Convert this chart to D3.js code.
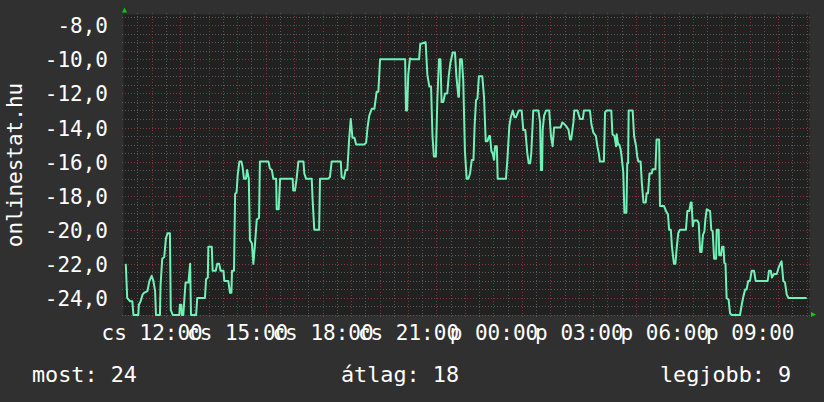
<!DOCTYPE html>
<html><head><meta charset="utf-8">
<script src="https://cdn.jsdelivr.net/npm/d3@7"></script>
<style>html,body{margin:0;padding:0;background:#303030;} svg{display:block;}</style>
</head><body><svg id="c" width="824" height="402"></svg>
<script>
// hours since Thursday 00:00 (cs) ; values = rank (negative)
const times = [
11.09,11.14,11.24,11.32,11.36,11.53,11.55,11.61,11.68,11.73,11.85,11.92,12.00,12.06,12.12,12.15,12.29,12.31,12.37,12.44,
12.50,12.56,12.64,12.67,12.74,12.97,12.99,13.04,13.06,13.11,13.15,13.19,13.29,13.35,13.38,13.56,13.60,13.87,13.91,13.97,
13.99,14.11,14.14,14.25,14.30,14.37,14.42,14.52,14.55,14.69,14.75,14.80,14.82,14.89,14.93,14.98,15.02,15.08,15.15,15.19,
15.24,15.31,15.35,15.41,15.45,15.52,15.57,15.63,15.69,15.77,15.80,16.10,16.15,16.22,16.27,16.37,16.39,16.46,16.51,16.95,
16.97,17.03,17.09,17.15,17.33,17.36,17.42,17.62,17.65,17.71,17.88,17.91,18.20,18.26,18.32,18.64,18.67,18.75,18.81,18.87,
18.93,18.99,19.05,19.12,19.18,19.46,19.53,19.58,19.64,19.73,19.82,19.90,19.96,20.02,20.90,20.93,20.97,21.01,21.07,21.15,
21.39,21.43,21.62,21.68,21.75,21.81,21.86,21.91,21.98,22.03,22.09,22.14,22.18,22.24,22.30,22.38,22.43,22.49,22.57,22.65,
22.70,22.77,22.79,22.83,22.89,22.94,23.00,23.06,23.12,23.18,23.24,23.30,23.34,23.39,23.44,23.49,23.61,23.67,23.73,23.79,
23.85,23.88,23.93,23.97,24.02,24.06,24.12,24.15,24.44,24.49,24.56,24.61,24.68,24.74,24.79,24.89,24.99,25.05,25.12,25.19,
25.24,25.29,25.33,25.40,25.58,25.64,25.67,25.71,25.73,25.78,25.85,25.96,26.02,26.08,26.13,26.36,26.42,26.49,26.57,26.64,
26.69,26.73,26.81,26.84,26.95,27.04,27.14,27.18,27.39,27.44,27.51,27.60,27.65,27.70,27.74,27.88,27.92,27.98,28.14,28.18,
28.25,28.31,28.33,28.38,28.42,28.47,28.50,28.56,28.60,28.67,28.70,28.73,28.75,28.89,28.94,29.01,29.05,29.09,29.17,29.21,
29.27,29.35,29.38,29.43,29.48,29.56,29.59,29.69,29.73,29.82,29.85,29.99,30.06,30.13,30.17,30.23,30.27,30.34,30.39,30.44,
30.49,30.55,30.76,30.81,30.88,30.93,30.96,31.00,31.04,31.16,31.21,31.26,31.31,31.36,31.41,31.44,31.49,31.61,31.65,31.70,
31.75,31.82,31.84,31.91,31.93,31.99,32.03,32.08,32.11,32.15,32.19,32.26,32.31,32.37,32.66,32.72,32.78,32.84,32.89,32.95,
33.01,33.07,33.15,33.21,33.63,33.68,33.74,33.78,33.85,33.95,34.02,34.07,34.12,34.18,34.24,34.30,34.36,35.00
];
const values = [
-22,-24,-24.2,-24.2,-25,-25,-24.4,-24.2,-23.8,-23.7,-23.6,-23,-22.7,-23,-23.6,-25,-25,-23.3,-21.7,-21.6,
-20.5,-20.2,-20.2,-24.7,-25,-25,-24.4,-24.4,-25,-25,-24,-23.1,-23.1,-22,-25,-25,-24,-24,-22.9,-22.8,
-21,-21,-22.4,-22.4,-22,-22,-22.4,-22.4,-23,-23,-23.7,-23.7,-22.4,-22.4,-17.9,-17.8,-16.8,-16,-16,-16.3,
-17,-17,-16.5,-17,-20.6,-20.8,-22,-20.8,-19.4,-19.3,-16,-16,-16.4,-16.5,-17,-17,-18.8,-18.8,-17,-17,
-17.7,-17.7,-17,-16,-16,-16.7,-17,-17,-18.2,-20,-20,-17,-17,-16.9,-16,-16,-16.9,-17,-16.5,-16.5,
-14.8,-13.5,-14.6,-14.6,-15,-15,-14.9,-14,-13.3,-12.9,-12.9,-11.9,-11.9,-10,-10,-13,-13,-10.9,-9.95,-10,
-10,-9.1,-9,-10.9,-11.6,-11.6,-14.5,-15.7,-15.7,-12.4,-10,-10,-12.5,-12.5,-12,-12,-11,-10.2,-9.6,-9.6,
-11,-12.2,-12.2,-10,-10,-11.2,-15.4,-17,-17,-16.7,-15.9,-15.9,-13.9,-12.4,-12.3,-11,-11,-12.2,-14.8,-14.8,
-14.5,-14.5,-15.4,-15.5,-15.9,-15.1,-15.1,-17,-17,-15.9,-13.9,-13.4,-13,-13.4,-13.4,-13,-13,-14.15,-14.15,-15.5,
-16.1,-16.1,-15.5,-13,-13,-13.7,-16.5,-16.5,-14.15,-13.3,-13,-13,-14.5,-15.1,-14,-14,-13.7,-13.8,-13.95,-14.15,
-14.7,-14.7,-13.7,-13,-13,-13.5,-13.5,-13,-13,-13.8,-14.3,-14.5,-15.1,-15.5,-16,-16,-13.1,-13,-13,-14.4,
-14.5,-15.1,-14.4,-15,-15,-15.3,-15.7,-16.6,-19,-19,-16.1,-16.1,-13,-13,-14.5,-15.1,-15.7,-16,-16,-17.2,
-18.4,-18.4,-17.85,-17.85,-16.7,-16.7,-16.45,-16.45,-14.7,-14.7,-18.6,-18.6,-18.9,-19.1,-20,-20,-21,-22,-22,-21,
-20.2,-20,-20,-18.9,-18.9,-18.4,-18.4,-19.8,-19.45,-19.45,-19.6,-21.3,-21.3,-20.3,-20.1,-19.45,-18.8,-18.9,-20,-20.1,
-21.7,-21.7,-20,-20,-21.5,-21.5,-21,-21,-21.95,-22,-24,-24.1,-24.9,-25,-25,-24.4,-23.9,-23.5,-23.5,-23,
-23,-22.4,-22.4,-23,-23,-22.4,-22.4,-22.8,-22.6,-22.6,-22.2,-22,-21.85,-23,-23.1,-23.8,-24,-24
];
const xTickHours = [12,15,18,21,24,27,30,33];
const xTickLabels = ["cs 12:00","cs 15:00","cs 18:00","cs 21:00","p 00:00","p 03:00","p 06:00","p 09:00"];
const yTicks = [-24,-22,-20,-18,-16,-14,-12,-10,-8];
const yTitle = "onlinestat.hu";
const legendItems = ["most: 24","átlag: 18","legjobb: 9"];

const FONT = "'DejaVu Sans Mono', monospace";
const svg = d3.select("#c");
const P = {left:123.5, right:809.5, top:14.5, bottom:315};
const x = d3.scaleLinear().domain([11.01, 35.10]).range([P.left, P.right]);
const y = d3.scaleLinear().domain([-25, -7.4]).range([315, 15]);
const crisp = v => Math.round(v) + 0.5;

svg.append("rect").attr("width",824).attr("height",402).attr("fill","#303030");
svg.append("rect").attr("x",P.left).attr("y",P.top).attr("width",P.right-P.left).attr("height",P.bottom-P.top).attr("fill","#212121");

const grid = svg.append("g");
// horizontal grid
d3.range(-25, -7.4, 0.5).forEach(v => {
  const major = Math.abs(v % 2) < 1e-9;
  grid.append("line").attr("x1",P.left-2).attr("x2",P.right+2)
    .attr("y1",crisp(y(v))-0.5).attr("y2",crisp(y(v))-0.5)
    .attr("stroke", major ? "#7e3838" : "#575757").attr("stroke-width",1)
    .attr("stroke-dasharray","1,2").attr("shape-rendering","crispEdges");
});
// vertical grid
d3.range(11.5, 35.1, 0.5).forEach(h => {
  const major = Math.abs(h % 1) < 1e-9;
  grid.append("line").attr("x1",crisp(x(h))).attr("x2",crisp(x(h)))
    .attr("y1",P.top-2).attr("y2",P.bottom+2)
    .attr("stroke", major ? "#7e3838" : "#575757").attr("stroke-width",1)
    .attr("stroke-dasharray","1,2").attr("shape-rendering","crispEdges");
});

// data line
const data = times.map((t,i)=>({t, v: values[i]}));
svg.append("clipPath").attr("id","clip").append("rect")
  .attr("x",P.left).attr("y",P.top).attr("width",P.right-P.left).attr("height",P.bottom-P.top+1);
svg.append("path").datum(data).attr("clip-path","url(#clip)")
  .attr("fill","none").attr("stroke","#70f2b6").attr("stroke-width",2)
  .attr("stroke-linejoin","round")
  .attr("d", d3.line().x(d=>x(d.t)).y(d=>y(Math.max(d.v,-25.05))));

// arrows
svg.append("path").attr("d","M122,12.5 L124.5,7.5 L127,12.5 Z").attr("fill","#00d000");
svg.append("path").attr("d","M811,312 L816,314.5 L811,317 Z").attr("fill","#00d000");

// y axis labels
const loc = d3.formatLocale({decimal:",", thousands:" ", grouping:[3], currency:["",""], minus:"-"});
const yAxis = d3.axisLeft(y).tickValues(yTicks).tickFormat(loc.format(".1f")).tickSize(0).tickPadding(0);
const gy = svg.append("g").attr("transform","translate(108,0)").call(yAxis);
gy.select(".domain").remove();
gy.selectAll("text").attr("fill","#ffffff").attr("font-family",FONT).attr("font-size",21).attr("dy","0.36em");

// x axis labels
const xAxis = d3.axisBottom(x).tickValues(xTickHours).tickFormat((d,i)=>xTickLabels[i]).tickSize(0).tickPadding(0);
const gx = svg.append("g").attr("transform","translate(0,339.5)").call(xAxis);
gx.select(".domain").remove();
gx.selectAll("text").attr("fill","#ffffff").attr("font-family",FONT).attr("font-size",21).attr("dy",0);

// title
svg.append("text").attr("transform","translate(21.5,165) rotate(-90)").attr("text-anchor","middle")
  .attr("fill","#ffffff").attr("font-family",FONT).attr("font-size",21).text(yTitle);

// legend
const legendX = [32, 341, 660];
svg.selectAll(".leg").data(legendItems).enter().append("text").attr("class","leg")
  .attr("x",(d,i)=>legendX[i]).attr("y",381.5)
  .attr("fill","#ffffff").attr("font-family",FONT).attr("font-size",21.8).text(d=>d);
</script></body></html>
